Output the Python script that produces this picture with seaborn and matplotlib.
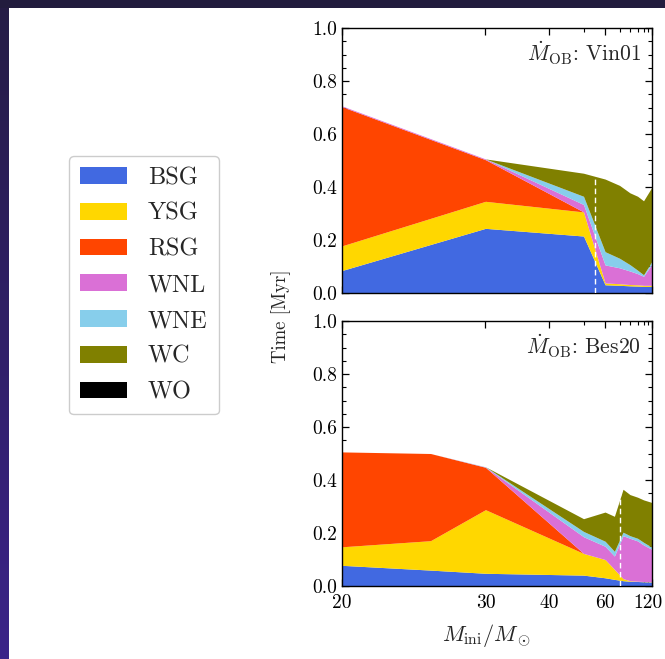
import numpy as np
import matplotlib
matplotlib.use("Agg")
import matplotlib.pyplot as plt
import seaborn as sns
from matplotlib.patches import Patch
from matplotlib.colors import LinearSegmentedColormap
from matplotlib.transforms import ScaledTranslation
from matplotlib.ticker import FixedLocator, NullFormatter, MultipleLocator, FixedFormatter

sns.set_style("ticks")
plt.rcParams.update({
    "font.family": "serif",
    "font.serif": ["cmr10"],
    "mathtext.fontset": "cm",
    "axes.formatter.use_mathtext": True,
    "axes.unicode_minus": False,
    "axes.edgecolor": "black",
    "axes.linewidth": 1.0,
    "xtick.direction": "in",
    "ytick.direction": "in",
    "xtick.color": "black",
    "ytick.color": "black",
})

# ---------------- data ----------------
phases = ["BSG", "YSG", "RSG", "WNL", "WNE", "WC", "WO"]
phase_colors = ["royalblue", "gold", "orangered", "orchid", "skyblue", "olive", "black"]

# Top panel: Mdot_OB = Vin01
mass_vin = [20, 30, 50, 60, 70, 80, 90, 100, 120]
bsg_vin = [0.085, 0.244, 0.215, 0.031, 0.029, 0.027, 0.026, 0.025, 0.025]
ysg_vin = [0.093, 0.102, 0.091, 0.007, 0.006, 0.005, 0.005, 0.004, 0.004]
rsg_vin = [0.525, 0.157, 0.000, 0.000, 0.000, 0.000, 0.000, 0.000, 0.000]
wnl_vin = [0.003, 0.003, 0.028, 0.068, 0.060, 0.051, 0.042, 0.034, 0.081]
wne_vin = [0.000, 0.000, 0.031, 0.050, 0.036, 0.024, 0.013, 0.006, 0.010]
wc_vin = [0.000, 0.000, 0.087, 0.274, 0.275, 0.271, 0.279, 0.279, 0.280]
wo_vin = [0.0, 0.0, 0.0, 0.0, 0.0, 0.0, 0.0, 0.0, 0.0]
transition_vin = 55
transition_vin_top = 0.44

# Bottom panel: Mdot_OB = Bes20
mass_bes = [20, 25, 30, 50, 60, 66, 73, 80, 90, 100, 120]
bsg_bes = [0.078, 0.060, 0.048, 0.041, 0.031, 0.025, 0.020, 0.018, 0.017, 0.016, 0.015]
ysg_bes = [0.070, 0.111, 0.240, 0.082, 0.069, 0.038, 0.008, 0.002, 0.001, 0.001, 0.001]
rsg_bes = [0.358, 0.329, 0.160, 0.000, 0.000, 0.000, 0.000, 0.000, 0.000, 0.000, 0.000]
wnl_bes = [0.000, 0.000, 0.001, 0.063, 0.050, 0.050, 0.162, 0.160, 0.152, 0.138, 0.122]
wne_bes = [0.000, 0.000, 0.001, 0.020, 0.019, 0.018, 0.013, 0.010, 0.010, 0.010, 0.008]
wc_bes = [0.000, 0.000, 0.000, 0.048, 0.110, 0.132, 0.162, 0.155, 0.155, 0.160, 0.169]
wo_bes = [0.0, 0.0, 0.0, 0.0, 0.0, 0.0, 0.0, 0.0, 0.0, 0.0, 0.0]
transition_bes = 70
transition_bes_top = 0.355

xtick_major = [20, 30, 40, 60, 120]
xtick_minor = [50, 70, 80, 90, 100, 110]
ytick_values = [0.0, 0.2, 0.4, 0.6, 0.8, 1.0]
ytick_labels = ["0.0", "0.2", "0.4", "0.6", "0.8", "1.0"]
panel_labels = [r"$\dot{M}_{\rm OB}$: Vin01", r"$\dot{M}_{\rm OB}$: Bes20"]

# ---------------- figure ----------------
W, H = 665, 659
fig = plt.figure(figsize=(W / 100, H / 100), dpi=100)
fig.patch.set_facecolor("white")

# slide background strips
grad_ax = fig.add_axes([0, 0, 9 / W, 1])
grad = np.linspace(0, 1, 256).reshape(-1, 1)
cmap_bg = LinearSegmentedColormap.from_list("bg", ["#3b2389", "#251c45"])
grad_ax.imshow(grad, aspect="auto", cmap=cmap_bg, origin="lower")
grad_ax.set_axis_off()
top_ax = fig.add_axes([0, 1 - 8 / H, 1, 8 / H])
top_ax.set_facecolor("#221c3e")
top_ax.set_xticks([]); top_ax.set_yticks([])
for s in top_ax.spines.values():
    s.set_visible(False)

p = 1.35
def fwd(m):
    m = np.asarray(m, dtype=float)
    return -np.power(np.clip(m, 1e-3, None), -p)
def inv(y):
    y = np.asarray(y, dtype=float)
    return np.power(np.clip(-y, 1e-12, None), -1.0 / p)

left, width = 342 / W, 310 / W
ax_top = fig.add_axes([left, 1 - 293 / H, width, 265 / H])
ax_bot = fig.add_axes([left, 1 - 586 / H, width, 265 / H])

datasets = [
    (ax_top, mass_vin, [bsg_vin, ysg_vin, rsg_vin, wnl_vin, wne_vin, wc_vin, wo_vin],
     transition_vin, transition_vin_top, panel_labels[0]),
    (ax_bot, mass_bes, [bsg_bes, ysg_bes, rsg_bes, wnl_bes, wne_bes, wc_bes, wo_bes],
     transition_bes, transition_bes_top, panel_labels[1]),
]

for ax, m, layers, mt, mtop, lab in datasets:
    ax.stackplot(m, *layers, colors=phase_colors, linewidth=0, antialiased=True)
    ax.vlines(mt, 0, mtop, colors="white", linestyles=(0, (4, 2.5)), linewidth=1.0, zorder=3)
    ax.set_xscale("function", functions=(fwd, inv))
    ax.set_xlim(20, 120)
    ax.set_ylim(0, 1)
    ax.xaxis.set_major_locator(FixedLocator(xtick_major))
    ax.xaxis.set_minor_locator(FixedLocator(xtick_minor))
    ax.xaxis.set_minor_formatter(NullFormatter())
    ax.set_yticks(ytick_values, labels=ytick_labels)
    ax.yaxis.set_minor_locator(MultipleLocator(0.05))
    ax.tick_params(which="both", direction="in", top=True, right=True, labelsize=14)
    ax.tick_params(which="major", length=5, width=0.9)
    ax.tick_params(which="minor", length=3, width=0.8)
    ax.text(0.965, 0.905, lab, transform=ax.transAxes, ha="right", va="center",
            fontsize=15.5)
    for s in ax.spines.values():
        s.set_linewidth(1.0)

ax_top.xaxis.set_major_formatter(NullFormatter())
ax_bot.xaxis.set_major_formatter(FixedFormatter([str(v) for v in xtick_major]))
ax_bot.tick_params(axis="x", pad=6)
fig.canvas.draw()
last_lab = ax_bot.get_xticklabels()[-1]
last_lab.set_transform(last_lab.get_transform() + ScaledTranslation(-4 / 100, 0, fig.dpi_scale_trans))

ax_bot.set_xlabel(r"$M_{\rm ini}/M_\odot$", fontsize=16, labelpad=6)
ax_bot.xaxis.set_label_coords(0.465, -0.135)
fig.text(281 / W, 1 - 316 / H, r"Time [Myr]", rotation=90, ha="center", va="center",
         fontsize=13.5)

handles = [Patch(facecolor=c, edgecolor="none") for c in phase_colors]
leg = fig.legend(handles, phases, loc="upper left", bbox_to_anchor=(69 / W, 1 - 156 / H),
                 fontsize=17.5, frameon=True, fancybox=True, framealpha=1,
                 edgecolor="#cccccc", handlelength=1.95, handleheight=0.68,
                 handletextpad=0.85, labelspacing=0.56, borderpad=0.45,
                 borderaxespad=0)
leg.get_frame().set_linewidth(1.0)

fig.savefig("out.png", dpi=100, facecolor="white")
